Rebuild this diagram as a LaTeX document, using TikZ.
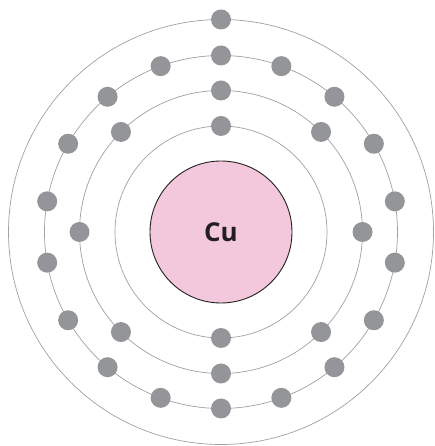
\documentclass[tikz,border=0pt]{standalone}
\usepackage{fontspec}
\setsansfont{Open Sans}
\definecolor{shellgray}{HTML}{A0A0A2}
\definecolor{egray}{HTML}{939598}
\definecolor{cupink}{HTML}{F3C8DD}
\definecolor{textdark}{HTML}{231F20}

\begin{document}
\begin{tikzpicture}[
  x=1pt, y=1pt,
  shell/.style={draw=shellgray, line width=0.7pt},
  electron/.style={circle, fill=egray, inner sep=0pt, minimum size=20pt},
  nucleus/.style={circle, draw=textdark, line width=0.9pt, fill=cupink,
    inner sep=0pt, minimum size=142pt, text=textdark,
    font=\sffamily\bfseries\fontsize{26}{30}\selectfont}
]
\useasboundingbox (0,0) rectangle (434,446);
\coordinate (c) at (221,214);

% shells
\draw[shell] (c) circle (106);
\draw[shell] (c) circle (141.5);
\draw[shell] (c) circle (176.5);
\draw[shell] (c) circle (212.5);

\node[nucleus] (cu) at (c) {Cu};

% electrons: 2, 8, 18, 1
\foreach \a in {90,270}
  \node[electron] (k-\a) at ([shift={(\a:106)}]c) {};
\foreach \a in {0,45,...,315}
  \node[electron] (l-\a) at ([shift={(\a:141.5)}]c) {};
\foreach \a in {10,30,...,350}
  \node[electron] (m-\a) at ([shift={(\a:176.5)}]c) {};
\node[electron] (n-90) at ([shift={(90:212.5)}]c) {};
\end{tikzpicture}
\end{document}
